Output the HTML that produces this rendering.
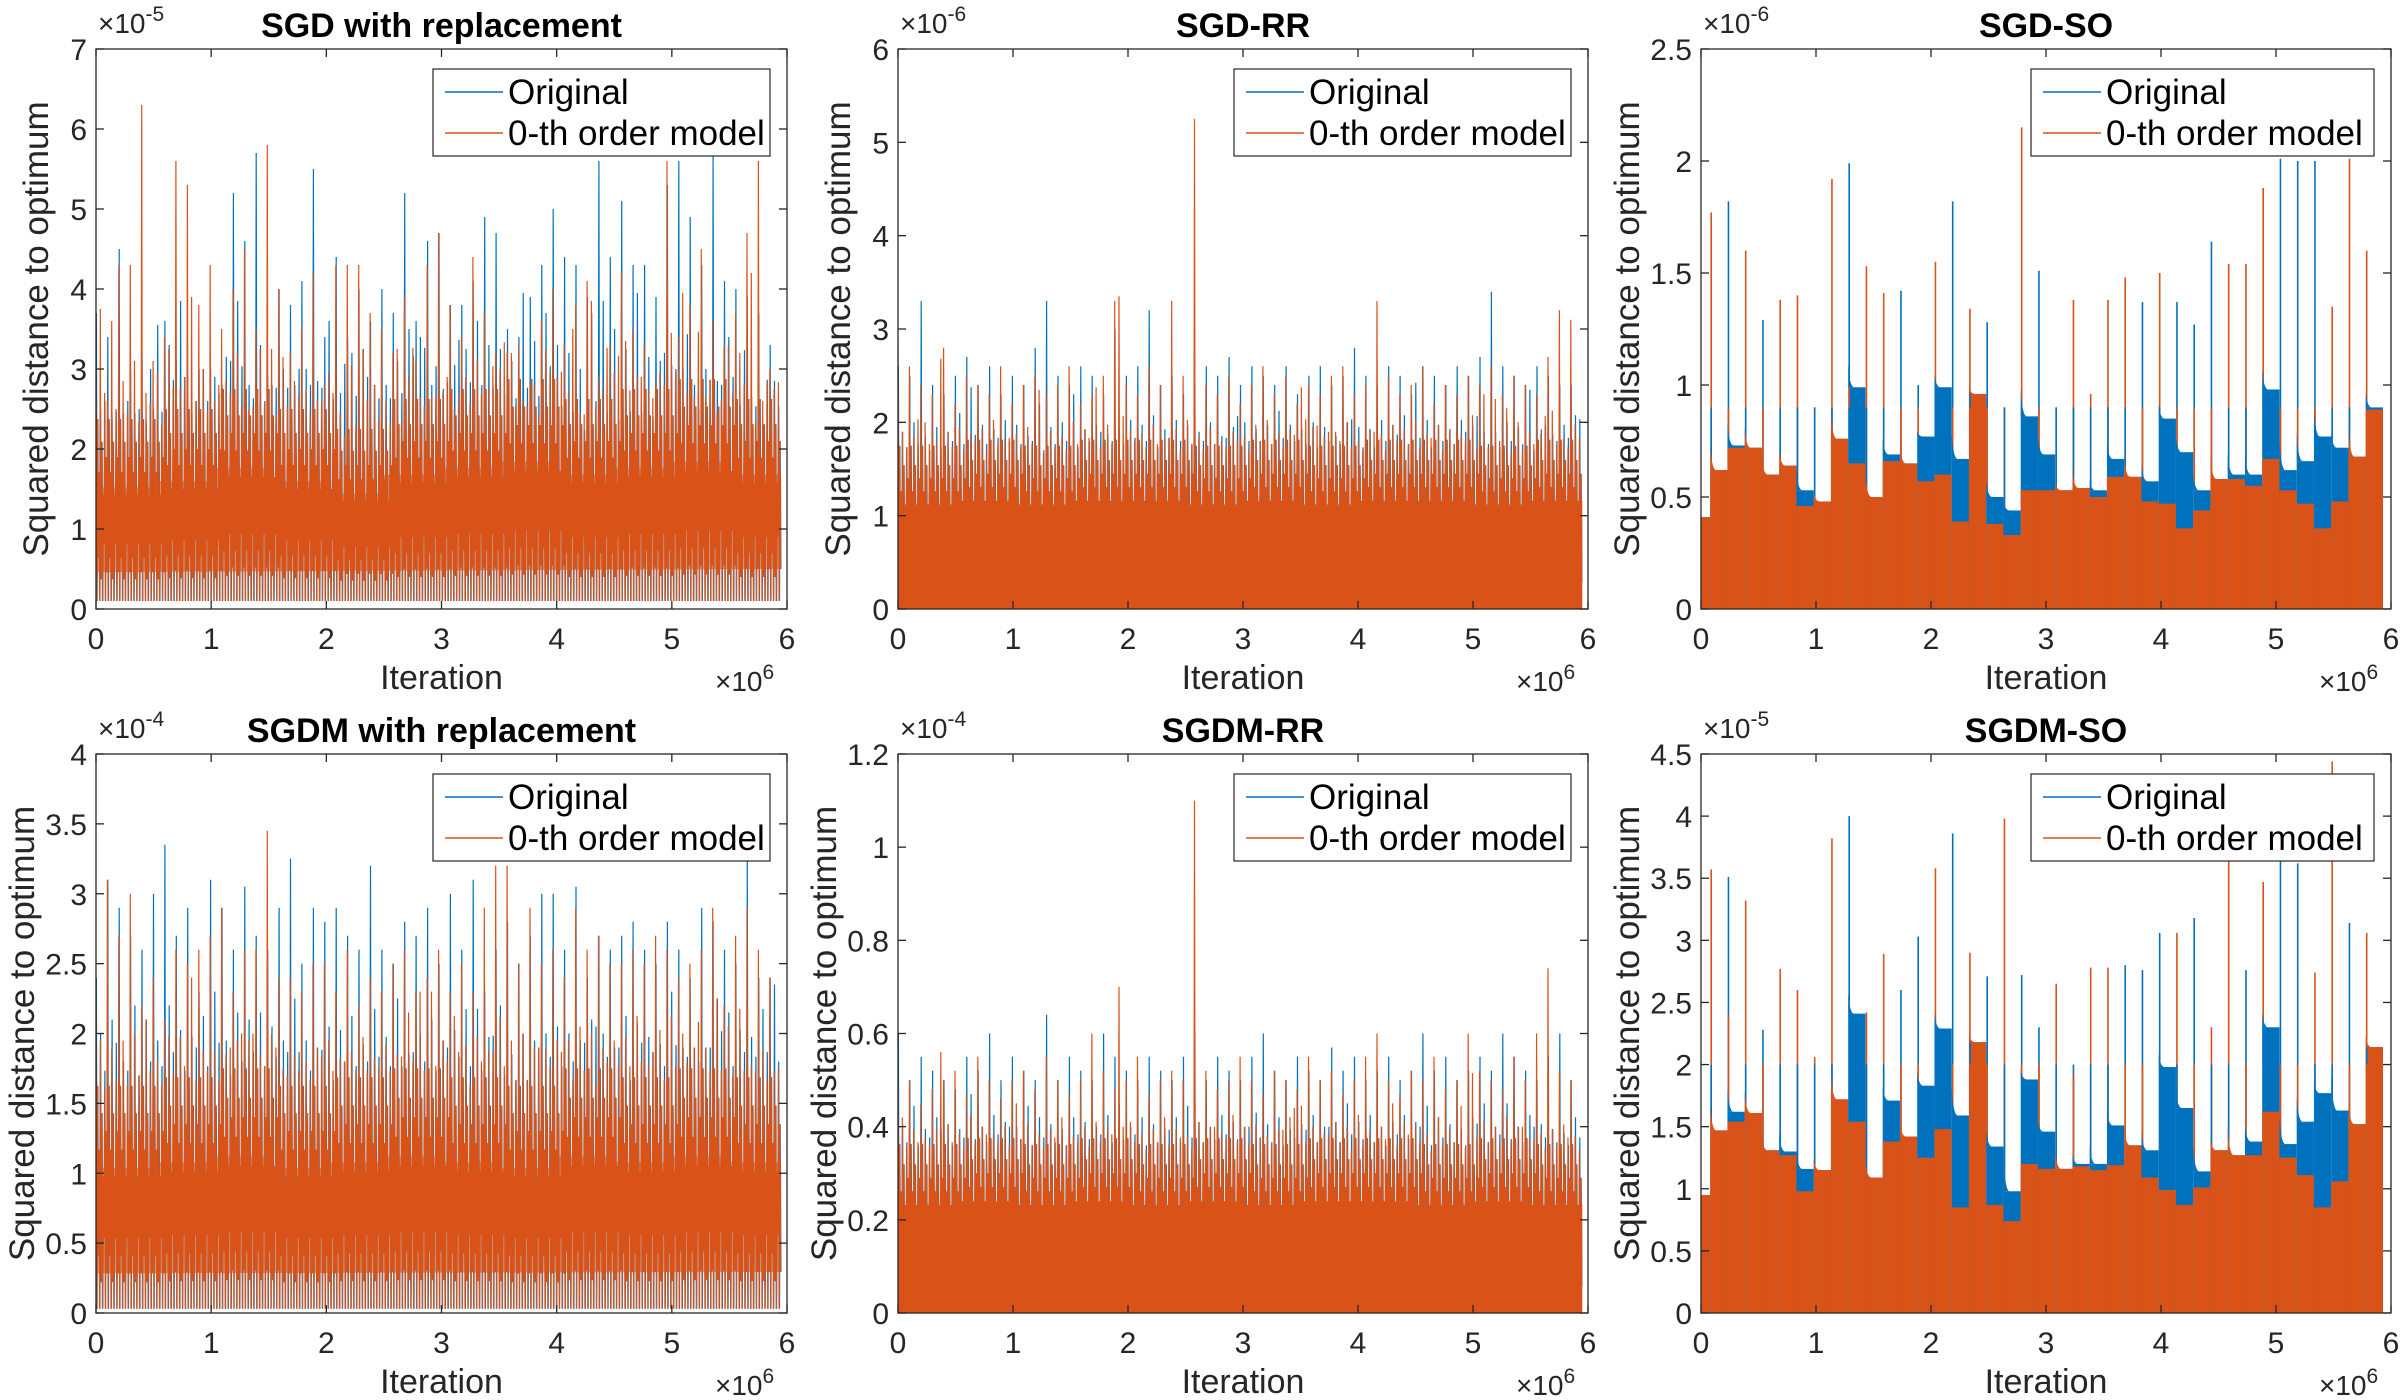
<!DOCTYPE html>
<html><head><meta charset="utf-8">
<style>
html,body{margin:0;padding:0;background:#fff;}
svg{display:block;font-family:"Liberation Sans",Arial,sans-serif;}
</style></head>
<body>
<svg id="fig" width="2400" height="1400" viewBox="0 0 2400 1400" xmlns="http://www.w3.org/2000/svg"></svg>
<script>
// ---------- data ----------
const xTicks = [0,1,2,3,4,5,6];
// Panel 1: SGD with replacement (x1e-5)
const p1Ticks = [0,1,2,3,4,5,6,7];
const p1Orange = [3.0,2.6,4.3,4.3,6.3,3.1,3.4,5.6,5.3,3.8,4.3,3.5,4.0,4.5,3.5,5.8,4.0,3.2,3.5,4.2,2.8,4.3,4.3,4.3,3.7,3.5,3.2,3.9,3.1,4.3,4.7,3.8,3.4,4.4,3.7,3.2,3.2,3.3,2.8,3.6,4.0,3.3,3.8,4.1,2.9,3.3,4.2,3.5,3.3,2.8,5.6,3.4,3.8,4.5,3.6,3.3,3.7,4.7,5.6,3.0];
const p1Blue = [3.7,3.4,4.5,3.0,3.2,2.5,3.6,3.1,2.9,3.0,3.0,2.8,5.2,4.6,5.7,2.9,4.0,3.8,4.1,5.5,3.4,4.4,3.4,4.0,3.6,4.0,3.7,5.2,3.6,4.6,4.7,3.8,3.8,4.1,4.9,4.7,3.5,3.4,3.9,4.3,5.0,4.4,4.3,3.9,5.6,4.4,5.1,4.3,4.3,3.9,5.3,5.6,4.9,4.3,5.7,4.1,4.0,3.9,3.7,3.3];
const p1Band = [1.9,2.0,2.2,2.0,1.8,2.1,2.2,2.3,2.1,2.2,2.3,2.1];
const p1Floor = [0.1];
// Panel 2: SGD-RR (x1e-6)
const p2Ticks = [0,1,2,3,4,5,6];
const p2Orange = [2.9,2.6,2.4,2.3,2.8,2.2,2.5,2.4,2.3,2.6,2.2,2.4,2.5,2.3,2.4,2.6,2.2,2.3,2.5,3.3,2.4,2.3,2.6,2.4,3.3,2.5,5.25,2.4,2.3,2.5,2.2,2.4,2.6,2.3,2.5,2.2,2.4,2.3,2.5,2.6,2.3,2.4,3.3,2.5,2.3,2.4,2.6,2.2,2.4,2.3,2.5,2.4,2.6,2.3,2.5,2.4,2.3,2.7,3.2,3.1];
const p2Blue = [2.6,2.5,3.3,2.4,2.3,2.5,2.7,2.4,2.6,2.3,2.5,2.4,2.8,3.3,2.5,2.4,2.6,2.5,2.3,3.0,2.5,2.6,3.2,2.4,2.5,2.3,2.4,2.6,2.5,2.7,2.4,2.6,2.5,2.4,2.6,2.3,2.5,2.6,2.4,2.5,2.8,2.5,2.4,2.6,2.5,2.3,2.6,2.5,2.4,2.6,2.5,2.7,3.4,2.6,2.5,2.4,2.6,2.5,2.4,2.4];
const p2Band = [1.4,1.45,1.4,1.45,1.45,1.4,1.45,1.4,1.45,1.45,1.4,1.45];
const p2Floor = [0.0];
// Panel 4: SGDM with replacement (x1e-4)
const p4Ticks = [0,0.5,1,1.5,2,2.5,3,3.5,4];
const p4Orange = [2.4,3.1,2.7,3.0,2.2,2.4,2.1,2.6,2.5,2.6,2.7,2.9,2.3,2.6,2.6,3.45,2.4,2.4,2.3,2.5,2.5,2.3,2.6,2.2,2.4,2.3,2.5,2.6,2.3,2.4,2.6,2.3,2.5,2.3,2.9,3.2,3.2,2.5,2.9,2.5,2.6,2.4,2.9,2.6,2.7,2.5,2.5,2.6,2.5,2.7,2.6,2.4,2.5,2.6,2.9,2.2,2.7,2.9,2.6,2.4];
const p4Blue = [2.4,3.1,2.9,2.7,2.6,3.0,3.35,2.7,2.9,2.3,3.1,2.9,2.6,3.05,2.7,2.6,2.9,3.25,2.5,2.9,2.8,2.9,2.7,2.6,3.2,2.6,2.5,2.8,2.7,2.9,2.5,3.0,2.6,3.1,2.3,2.6,2.8,2.5,2.7,3.0,3.0,2.6,3.05,2.4,2.7,2.6,2.7,2.8,2.6,2.5,2.8,2.6,2.4,2.9,2.8,2.6,2.5,3.25,2.4,2.4];
const p4Band = [1.3,1.35,1.4,1.3,1.35,1.4,1.35,1.3,1.4,1.35,1.4,1.35];
const p4Floor = [0.03];
// Panel 5: SGDM-RR (x1e-4)
const p5Ticks = [0,0.2,0.4,0.6,0.8,1,1.2];
const p5Orange = [0.55,0.5,0.45,0.48,0.5,0.52,0.47,0.55,0.5,0.46,0.5,0.52,0.48,0.55,0.5,0.47,0.5,0.6,0.52,0.48,0.5,0.55,0.47,0.5,0.52,0.5,1.1,0.52,0.48,0.5,0.55,0.5,0.47,0.52,0.5,0.48,0.55,0.5,0.52,0.47,0.5,0.55,0.6,0.5,0.47,0.52,0.5,0.55,0.48,0.5,0.6,0.52,0.5,0.48,0.55,0.5,0.6,0.74,0.52,0.5];
const p5Blue = [0.6,0.5,0.55,0.52,0.5,0.48,0.55,0.52,0.6,0.5,0.55,0.52,0.5,0.64,0.5,0.55,0.52,0.5,0.6,0.55,0.52,0.5,0.55,0.52,0.5,0.55,0.6,0.5,0.55,0.52,0.5,0.55,0.6,0.52,0.5,0.55,0.52,0.5,0.57,0.52,0.55,0.5,0.52,0.55,0.5,0.52,0.6,0.52,0.55,0.5,0.52,0.55,0.52,0.6,0.55,0.52,0.5,0.55,0.6,0.5];
const p5Band = [0.29,0.3,0.29,0.3,0.29,0.3,0.29,0.3,0.3,0.29,0.3,0.29];
const p5Floor = [0.0];
// Panels 3 & 6: shuffle-once, 40 epochs of 0.15e6 (first epoch truncated at 0.08e6)
const epochLen = [0.15];
const epochOffset = [0.08];
// SGD-SO (x1e-6)
const p3Ticks = [0,0.5,1,1.5,2,2.5];
const p3OrangeLevel = [0.41,0.62,0.72,0.72,0.60,0.64,0.46,0.48,0.76,0.65,0.50,0.66,0.65,0.57,0.60,0.39,0.96,0.38,0.33,0.53,0.53,0.53,0.54,0.50,0.59,0.59,0.48,0.47,0.36,0.44,0.58,0.58,0.55,0.67,0.53,0.47,0.36,0.48,0.68,0.89];
const p3BlueLevel  = [0.41,0.62,0.73,0.72,0.60,0.64,0.53,0.48,0.76,0.99,0.50,0.69,0.65,0.77,0.99,0.67,0.96,0.50,0.44,0.86,0.69,0.53,0.54,0.53,0.67,0.59,0.57,0.85,0.70,0.53,0.58,0.60,0.60,0.98,0.62,0.66,0.77,0.72,0.68,0.90];
const p3SpikeOrange = [0,1.77,0.9,1.6,0.9,1.38,1.4,0.9,1.92,0.9,1.53,1.41,0.9,0.9,1.55,0.9,1.34,0.9,0.9,2.15,0.9,0.9,1.38,0.96,1.38,1.48,0.9,1.5,0.9,0.9,0.9,1.54,1.54,1.88,0.9,0.9,0.9,1.35,2.01,1.6];
const p3SpikeBlue = [0,0.9,1.82,0.9,1.29,0.9,0.9,0.9,0.9,1.99,0.9,0.9,1.42,1.0,0.9,1.82,0.9,1.28,0.9,0.9,1.51,0.9,0.9,0.9,0.9,0.9,1.37,0.9,1.37,1.27,1.64,0.9,0.9,0.9,2.01,2.0,2.0,0.9,0.9,0.9];
// SGDM-SO (x1e-5)
const p6Ticks = [0,0.5,1,1.5,2,2.5,3,3.5,4,4.5];
const p6OrangeLevel = [0.95,1.47,1.54,1.61,1.31,1.27,0.98,1.15,1.72,1.54,1.09,1.38,1.42,1.25,1.48,0.85,2.18,0.87,0.74,1.20,1.16,1.16,1.18,1.15,1.19,1.35,1.09,0.99,0.87,1.01,1.31,1.27,1.27,1.62,1.25,1.11,0.85,1.06,1.52,2.14];
const p6BlueLevel  = [0.95,1.47,1.62,1.61,1.31,1.30,1.16,1.15,1.72,2.41,1.09,1.71,1.42,1.83,2.29,1.59,2.18,1.34,0.98,1.88,1.46,1.16,1.20,1.20,1.51,1.35,1.31,1.98,1.65,1.14,1.31,1.27,1.38,2.30,1.36,1.54,1.77,1.63,1.52,2.14];
const p6SpikeOrange = [0,3.57,2.4,3.32,2.0,2.77,2.6,2.06,3.82,2.5,2.42,2.89,2.0,2.0,3.58,2.0,2.9,2.0,3.98,2.0,2.0,2.65,1.92,2.78,2.78,2.0,2.0,2.0,3.06,2.0,2.3,3.64,2.0,3.47,2.0,2.0,2.74,4.44,2.0,3.06];
const p6SpikeBlue = [0,2.0,3.51,2.0,2.28,2.0,2.0,2.0,2.0,4.0,2.0,2.0,2.6,3.03,2.0,3.86,2.0,2.71,2.0,2.72,2.3,2.0,2.0,2.0,2.0,2.8,2.76,3.06,2.0,3.18,2.0,2.0,2.76,2.0,3.64,3.62,2.0,2.0,3.14,2.0];
const titles = ["SGD with replacement","SGD-RR","SGD-SO","SGDM with replacement","SGDM-RR","SGDM-SO"];
const exponents = ["-5","-6","-6","-4","-4","-5"];
const seriesNames = ["Original","0-th order model"];

// ---------- rendering ----------
const NS="http://www.w3.org/2000/svg";
const BLUE="#0072BD", ORANGE="#D95319", AX="#262626";
const svg=document.getElementById('fig');
function el(tag,attrs,parent){const e=document.createElementNS(NS,tag);for(const k in attrs)e.setAttribute(k,attrs[k]);(parent||svg).appendChild(e);return e;}
const cols=[[96,787],[898,1588],[1701,2391]];
const rows=[[49,609],[754,1313]];

function makeAxes(idx,yMax){
  const c=cols[idx%3], r=rows[Math.floor(idx/3)];
  const L=c[0],R=c[1],T=r[0],B=r[1];
  const sx=v=>L+(v/6)*(R-L);
  const sy=v=>B-(v/yMax)*(B-T);
  const g=el('g',{});
  
  
  const clipId='clip'+idx;
  const cp=el('clipPath',{id:clipId},g);
  el('rect',{x:L,y:T,width:R-L,height:B-T},cp);
  const pg=el('g',{'clip-path':'url(#'+clipId+')'},g);
  
  
  return {L,R,T,B,sx,sy,g,pg};
}
function finishAxes(ax,idx,yTicks){
  const {L,R,T,B,sx,sy,g}=ax;
  const frame=el('rect',{x:L,y:T,width:R-L,height:B-T,fill:'none',stroke:AX,'stroke-width':1.3},g);
  
  
  xTicks.forEach(v=>{
    const x=sx(v);
    el('line',{x1:x,y1:B,x2:x,y2:B-8,stroke:AX,'stroke-width':1.3},g);
    el('line',{x1:x,y1:T,x2:x,y2:T+8,stroke:AX,'stroke-width':1.3},g);
    const t=el('text',{x:x,y:B+40,'font-size':30,'text-anchor':'middle',fill:AX},g);
    t.textContent=v;
    
    
  });
  yTicks.forEach(v=>{
    const y=sy(v);
    el('line',{x1:L,y1:y,x2:L+8,y2:y,stroke:AX,'stroke-width':1.3},g);
    el('line',{x1:R,y1:y,x2:R-8,y2:y,stroke:AX,'stroke-width':1.3},g);
    const t=el('text',{x:L-9,y:y+11,'font-size':30,'text-anchor':'end',fill:AX},g);
    t.textContent=v;
    
    
  });
  const ey=el('text',{x:L+2,y:T-16,'font-size':28,fill:AX},g);
  ey.innerHTML='×10<tspan dy="-12" font-size="21">'+exponents[idx]+'</tspan>';
  
  
  const ex=el('text',{x:R-72,y:B+82,'font-size':28,fill:AX},g);
  ex.innerHTML='×10<tspan dy="-12" font-size="21">6</tspan>';
  
  
  const ttl=el('text',{x:(L+R)/2,y:T-12,'font-size':34,'font-weight':'bold','text-anchor':'middle',fill:'#000'},g);
  ttl.textContent=titles[idx];
  
  
  const xl=el('text',{x:(L+R)/2,y:B+80,'font-size':34,'text-anchor':'middle',fill:AX},g);
  xl.textContent='Iteration';
  
  
  const wide=yTicks.some(v=>String(v).length>1);
  const yx=L-(wide?62:48), ycy=(T+B)/2;
  const yl=el('text',{x:yx,y:ycy,'font-size':35,'text-anchor':'middle',fill:AX,transform:'rotate(-90 '+yx+' '+ycy+')'},g);
  yl.textContent='Squared distance to optimum';
  
  
  const lw=(idx%3===2)?343:337, lx=R-17-lw, ly=T+20;
  const lg=el('g',{},g);
  
  
  el('rect',{x:lx,y:ly,width:lw,height:87,fill:'#fff',stroke:'#262626','stroke-width':1.2},lg);
  [BLUE,ORANGE].forEach((col,i)=>{
    const yy=ly+23+i*41;
    el('line',{x1:lx+12,y1:yy,x2:lx+70,y2:yy,stroke:col,'stroke-width':1.6},lg);
    const t=el('text',{x:lx+75,y:yy+12,'font-size':35,fill:'#000'},lg);
    t.textContent=seriesNames[i];
    
    
  });
}

function noisyPanel(idx,yTicks,orange,blue,band,floor){
  const yMax=yTicks[yTicks.length-1];
  const ax=makeAxes(idx,yMax);
  const {sx,sy,pg}=ax;
  const n=orange.length, dx=5.95/n;
  const bandAt=x=>band[Math.min(band.length-1,Math.floor(x/6*band.length))];
  const f=floor[0];
  function zig(peaks,col,phase,name){
    let pts=[];
    for(let i=0;i<n;i++){
      const x0=i*dx, b=bandAt(x0), pn=peaks[(i+7)%n], pm=peaks[(i+23)%n];
      const hs=[peaks[i],f,b*1.25,f+0.3*(b-f),b*0.9,f,(pn+b)/2,f+0.15*(b-f),b*1.1,f,b*0.75,f+0.4*(b-f),(pm+b*2)/3,f,b*1.0,f+0.2*(b-f)];
      hs.forEach((h,j)=>pts.push([x0+(phase+j)/hs.length*dx,h]));
    }
    const p=el('polyline',{points:pts.map(q=>sx(Math.min(q[0],5.95)).toFixed(1)+','+sy(q[1]).toFixed(1)).join(' '),fill:'none',stroke:col,'stroke-width':1.2},pg);
    
    
  }
  zig(blue,BLUE,0.5,'series-original');
  let bp=[[0,f+0.2*(band[0]-f)]];
  band.forEach((b,i)=>{bp.push([i*6/band.length,b*0.8]);bp.push([Math.min(5.95,(i+1)*6/band.length),b*0.8]);});
  bp.push([5.95,f+0.2*(band[band.length-1]-f)]);
  const solid=(idx%3===1);
  if(solid){ bp[0]=[0,0]; bp[bp.length-1]=[5.95,0]; }
  const bandEl=el('polygon',{points:bp.map(q=>sx(q[0]).toFixed(1)+','+sy(q[1]).toFixed(1)).join(' '),fill:ORANGE,'fill-opacity':solid?1:0.6},pg);
  
  
  zig(orange,ORANGE,0,'series-zeroth-order-model');
  finishAxes(ax,idx,yTicks);
}

function soPanel(idx,yTicks,oLev,bLev,sO,sB){
  const yMax=yTicks[yTicks.length-1];
  const ax=makeAxes(idx,yMax);
  const {sx,sy,pg}=ax;
  const n=oLev.length;
  for(let k=0;k<n;k++){
    const xs=k===0?0:epochOffset[0]+(k-1)*epochLen[0];
    const xe=Math.min(5.93,epochOffset[0]+k*epochLen[0]);
    const br=el('rect',{x:sx(xs),y:sy(bLev[k]),width:sx(xe)-sx(xs),height:sy(0)-sy(bLev[k]),fill:BLUE},pg);
    
    
    const or=el('rect',{x:sx(xs),y:sy(oLev[k]),width:sx(xe)-sx(xs),height:sy(0)-sy(oLev[k]),fill:ORANGE},pg);
    
    
    if(k>0){
      const top=Math.max(oLev[k],bLev[k]);
      const first=sO[k]>=sB[k]?[sB[k],BLUE]:[sO[k],ORANGE];
      const second=sO[k]>=sB[k]?[sO[k],ORANGE]:[sB[k],BLUE];
      [second,first].forEach(s=>{
        const l=el('line',{x1:sx(xs)+1,y1:sy(top),x2:sx(xs)+1,y2:sy(s[0]),stroke:s[1],'stroke-width':1.6},pg);
        
        
      });
      const col=bLev[k]>oLev[k]+0.001?BLUE:ORANGE;
      const hi=Math.max(sO[k],sB[k]);
      const d=el('path',{d:'M'+sx(xs)+','+sy(top+(hi-top)*0.1)+' Q'+(sx(xs)+1.5)+','+sy(top)+' '+(sx(xs)+6)+','+sy(top)+' L'+sx(xs)+','+sy(top)+'Z',fill:col},pg);
      
      
    }
  }
  finishAxes(ax,idx,yTicks);
}

noisyPanel(0,p1Ticks,p1Orange,p1Blue,p1Band,p1Floor);
noisyPanel(1,p2Ticks,p2Orange,p2Blue,p2Band,p2Floor);
soPanel(2,p3Ticks,p3OrangeLevel,p3BlueLevel,p3SpikeOrange,p3SpikeBlue);
noisyPanel(3,p4Ticks,p4Orange,p4Blue,p4Band,p4Floor);
noisyPanel(4,p5Ticks,p5Orange,p5Blue,p5Band,p5Floor);
soPanel(5,p6Ticks,p6OrangeLevel,p6BlueLevel,p6SpikeOrange,p6SpikeBlue);
</script>
</body></html>
